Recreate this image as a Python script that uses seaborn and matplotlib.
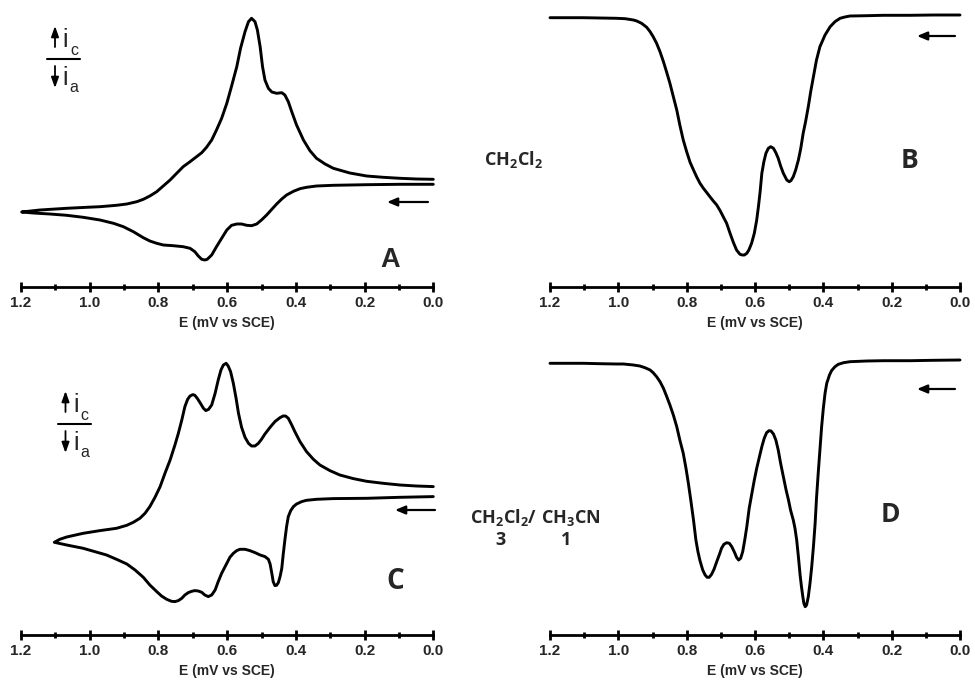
import matplotlib
matplotlib.use("Agg")
import matplotlib.pyplot as plt
from matplotlib.patches import FancyArrowPatch
from matplotlib.ticker import FixedLocator, MultipleLocator
import pandas as pd
import seaborn as sns

# ---------------------------------------------------------------------------
# A: cyclic voltammogram in CH2Cl2 (E in V vs SCE, current in arbitrary units)
# anodic sweep 0 -> 1.2 V, then return sweep 1.2 -> 0 V
a_anodic_E = [0.000, 0.097, 0.194, 0.291, 0.340, 0.369, 0.388, 0.407, 0.427, 0.441,
              0.456, 0.470, 0.485, 0.500, 0.514, 0.529, 0.543, 0.558, 0.572, 0.587,
              0.601, 0.616, 0.631, 0.645, 0.658, 0.665, 0.674, 0.684, 0.694, 0.708,
              0.728, 0.757, 0.786, 0.805, 0.825, 0.844, 0.873, 0.902, 0.931, 0.970,
              1.019, 1.067, 1.116, 1.164, 1.198]
a_anodic_i = [2.77, 2.77, 2.73, 2.67, 2.60, 2.47, 2.33, 2.07, 1.70, 1.30,
              0.80, 0.27, -0.30, -0.80, -1.20, -1.37, -1.33, -1.20, -1.20, -1.33,
              -1.80, -2.63, -3.47, -4.30, -4.73, -4.80, -4.73, -4.40, -3.97, -3.63,
              -3.47, -3.37, -3.30, -3.13, -2.90, -2.57, -1.97, -1.47, -1.13, -0.80,
              -0.53, -0.33, -0.20, -0.10, 0.00]
a_return_E = [1.198, 1.145, 1.067, 1.009, 0.970, 0.922, 0.892, 0.863, 0.844, 0.825,
              0.805, 0.786, 0.766, 0.747, 0.728, 0.708, 0.689, 0.674, 0.660, 0.645,
              0.631, 0.616, 0.601, 0.587, 0.572, 0.561, 0.548, 0.538, 0.529, 0.519,
              0.512, 0.504, 0.497, 0.490, 0.480, 0.470, 0.456, 0.441, 0.432, 0.422,
              0.412, 0.398, 0.378, 0.359, 0.340, 0.315, 0.291, 0.243, 0.194, 0.146,
              0.097, 0.049, 0.000]
a_return_i = [0.00, 0.20, 0.37, 0.47, 0.53, 0.67, 0.80, 1.03, 1.27, 1.60,
              2.03, 2.60, 3.20, 3.87, 4.53, 5.03, 5.53, 5.93, 6.47, 7.20,
              8.20, 9.37, 10.87, 12.60, 14.53, 16.37, 18.03, 19.03, 19.37, 19.03,
              18.20, 16.53, 14.53, 13.20, 12.37, 12.00, 11.87, 11.93, 11.70, 11.03,
              10.03, 8.70, 7.20, 6.13, 5.37, 4.80, 4.37, 3.90, 3.60, 3.47,
              3.37, 3.30, 3.27]

# B: differential pulse voltammogram in CH2Cl2
b_E = [0.000, 0.078, 0.146, 0.224, 0.273, 0.322, 0.337, 0.351, 0.366, 0.380,
       0.395, 0.410, 0.420, 0.429, 0.437, 0.444, 0.452, 0.459, 0.466, 0.473,
       0.481, 0.488, 0.495, 0.500, 0.507, 0.517, 0.525, 0.532, 0.539, 0.546,
       0.554, 0.561, 0.568, 0.574, 0.580, 0.585, 0.590, 0.595, 0.602, 0.610,
       0.618, 0.624, 0.631, 0.637, 0.644, 0.654, 0.663, 0.673, 0.683, 0.693,
       0.702, 0.712, 0.722, 0.732, 0.741, 0.751, 0.761, 0.771, 0.780, 0.790,
       0.800, 0.810, 0.820, 0.829, 0.839, 0.849, 0.859, 0.868, 0.878, 0.888,
       0.898, 0.907, 0.917, 0.932, 0.946, 0.956, 0.980, 1.005, 1.054, 1.102,
       1.151, 1.200]
b_i = [0.00, 0.00, -0.03, -0.03, -0.07, -0.10, -0.20, -0.33, -0.67, -1.17,
       -2.00, -3.17, -4.50, -6.17, -7.67, -9.17, -10.67, -11.83, -13.33, -14.50,
       -15.50, -16.17, -16.57, -16.67, -16.50, -15.83, -15.10, -14.33, -13.77, -13.33,
       -13.17, -13.33, -13.83, -14.67, -15.83, -17.67, -19.17, -20.50, -21.83, -22.83,
       -23.50, -23.83, -24.00, -24.00, -23.93, -23.50, -22.77, -21.83, -20.83, -20.17,
       -19.57, -19.00, -18.60, -18.17, -17.77, -17.33, -16.83, -16.17, -15.50, -14.73,
       -13.67, -12.50, -11.00, -9.50, -8.17, -6.83, -5.67, -4.67, -3.67, -2.83,
       -2.17, -1.67, -1.23, -0.83, -0.60, -0.50, -0.37, -0.33, -0.30, -0.27,
       -0.27, -0.27]

# C: cyclic voltammogram in CH2Cl2 / CH3CN (3:1)
c_anodic_E = [0.000, 0.097, 0.194, 0.291, 0.340, 0.369, 0.383, 0.398, 0.407, 0.415,
              0.422, 0.427, 0.432, 0.437, 0.441, 0.446, 0.451, 0.456, 0.461, 0.466,
              0.470, 0.475, 0.480, 0.490, 0.504, 0.519, 0.534, 0.548, 0.563, 0.572,
              0.582, 0.592, 0.601, 0.616, 0.626, 0.635, 0.645, 0.655, 0.665, 0.674,
              0.684, 0.694, 0.703, 0.713, 0.723, 0.732, 0.742, 0.752, 0.762, 0.776,
              0.791, 0.805, 0.825, 0.844, 0.868, 0.892, 0.922, 0.951, 0.985, 1.019,
              1.067, 1.103]
c_anodic_i = [4.57, 4.50, 4.40, 4.37, 4.30, 4.20, 4.07, 3.83, 3.57, 3.17,
              2.57, 1.57, 0.23, -1.27, -2.60, -3.43, -4.03, -4.30, -4.33, -3.93,
              -3.10, -2.17, -1.70, -1.43, -1.27, -1.03, -0.83, -0.70, -0.70, -0.83,
              -1.10, -1.50, -2.10, -3.10, -3.93, -4.77, -5.27, -5.43, -5.27, -5.00,
              -4.87, -4.83, -4.90, -5.03, -5.27, -5.60, -5.83, -5.93, -5.90, -5.70,
              -5.37, -4.93, -4.27, -3.50, -2.77, -2.17, -1.70, -1.27, -0.93, -0.60,
              -0.27, 0.00]
c_return_E = [1.103, 1.087, 1.067, 1.019, 0.970, 0.922, 0.892, 0.873, 0.854, 0.839,
              0.825, 0.810, 0.795, 0.781, 0.766, 0.752, 0.742, 0.732, 0.723, 0.715,
              0.708, 0.700, 0.694, 0.687, 0.679, 0.669, 0.662, 0.654, 0.645, 0.635,
              0.626, 0.618, 0.611, 0.603, 0.597, 0.590, 0.582, 0.574, 0.567, 0.558,
              0.548, 0.538, 0.529, 0.519, 0.509, 0.500, 0.490, 0.475, 0.461, 0.446,
              0.437, 0.430, 0.422, 0.412, 0.403, 0.388, 0.369, 0.349, 0.330, 0.301,
              0.272, 0.233, 0.194, 0.146, 0.097, 0.049, 0.000]
c_return_i = [0.00, 0.30, 0.53, 0.90, 1.17, 1.40, 1.70, 2.00, 2.40, 2.90,
              3.57, 4.50, 5.57, 6.90, 8.23, 9.73, 10.90, 12.23, 13.57, 14.30,
              14.63, 14.77, 14.70, 14.40, 13.97, 13.40, 13.17, 13.30, 13.73, 14.90,
              16.23, 17.23, 17.73, 17.90, 17.63, 17.07, 15.90, 14.40, 12.90, 11.50,
              10.50, 9.90, 9.63, 9.63, 9.90, 10.30, 10.83, 11.50, 12.07, 12.47,
              12.63, 12.63, 12.40, 11.73, 11.07, 10.07, 9.07, 8.30, 7.73, 7.17,
              6.73, 6.37, 6.10, 5.90, 5.73, 5.63, 5.57]

# D: differential pulse voltammogram in CH2Cl2 / CH3CN (3:1)
d_E = [0.000, 0.078, 0.146, 0.224, 0.273, 0.322, 0.341, 0.356, 0.366, 0.376,
       0.382, 0.390, 0.395, 0.400, 0.405, 0.410, 0.415, 0.420, 0.424, 0.429,
       0.434, 0.439, 0.444, 0.449, 0.453, 0.457, 0.460, 0.464, 0.468, 0.473,
       0.478, 0.483, 0.488, 0.496, 0.502, 0.509, 0.517, 0.525, 0.532, 0.539,
       0.546, 0.553, 0.559, 0.566, 0.573, 0.580, 0.587, 0.595, 0.602, 0.610,
       0.617, 0.624, 0.630, 0.636, 0.642, 0.648, 0.654, 0.660, 0.668, 0.675,
       0.683, 0.691, 0.698, 0.704, 0.712, 0.720, 0.727, 0.734, 0.740, 0.746,
       0.753, 0.761, 0.767, 0.773, 0.780, 0.788, 0.795, 0.802, 0.810, 0.820,
       0.829, 0.839, 0.849, 0.859, 0.868, 0.878, 0.888, 0.898, 0.907, 0.922,
       0.937, 0.956, 0.985, 1.005, 1.054, 1.102, 1.151, 1.200]
d_i = [0.00, -0.03, -0.07, -0.07, -0.10, -0.17, -0.27, -0.43, -0.67, -1.07,
       -1.50, -2.33, -3.33, -4.83, -6.67, -9.00, -11.33, -13.83, -16.33, -18.67,
       -20.67, -22.33, -23.67, -24.50, -24.67, -24.33, -23.67, -22.67, -21.50, -19.67,
       -18.00, -16.83, -16.00, -15.00, -14.00, -13.00, -11.67, -10.33, -9.00, -8.00,
       -7.40, -7.10, -7.07, -7.27, -7.83, -8.67, -9.67, -10.83, -12.00, -13.50,
       -14.83, -16.67, -18.00, -19.17, -19.83, -20.00, -19.73, -19.23, -18.67, -18.33,
       -18.27, -18.43, -18.83, -19.43, -20.17, -20.93, -21.43, -21.73, -21.73, -21.50,
       -21.00, -20.07, -19.17, -18.00, -16.00, -14.00, -12.33, -10.83, -9.33, -8.00,
       -6.67, -5.50, -4.50, -3.60, -2.83, -2.17, -1.67, -1.27, -1.00, -0.77,
       -0.60, -0.50, -0.40, -0.40, -0.37, -0.33, -0.33, -0.33]

x_ticks = [1.2, 1.0, 0.8, 0.6, 0.4, 0.2, 0.0]
x_tick_labels = ["1.2", "1.0", "0.8", "0.6", "0.4", "0.2", "0.0"]
x_label = "E (mV vs SCE)"
panel_letters = ["A", "B", "C", "D"]
solvent_single = r"$\mathbf{CH_2Cl_2}$"
solvent_mix = r"$\mathbf{CH_2Cl_2/\ CH_3CN}$"
mix_ratio = ["3", "1"]

# ---------------------------------------------------------------------------
sns.set_theme(style="white")
plt.rcParams["font.family"] = ["Liberation Sans", "DejaVu Sans"]
plt.rcParams["mathtext.fontset"] = "custom"
plt.rcParams["mathtext.rm"] = "Open Sans"
plt.rcParams["mathtext.bf"] = "Open Sans:bold"
LABEL_FONT = ["Open Sans", "DejaVu Sans"]

W, H = 975, 688
fig = plt.figure(figsize=(W / 100, H / 100), dpi=100)
fig.patch.set_facecolor("white")


def px_axes(left, right, spine_y, top_y):
    """Add axes from pixel bounds measured from the top-left corner."""
    return fig.add_axes([left / W, 1 - spine_y / H, (right - left) / W, (spine_y - top_y) / H])


def trace(ax, E, i):
    df = pd.DataFrame({"E": E, "i": i})
    sns.lineplot(data=df, x="E", y="i", sort=False, estimator=None, color="black",
                 lw=2.1, ax=ax, clip_on=False)


def style_axis(ax, ylim):
    ax.set_xlim(1.2, 0.0)
    ax.set_ylim(*ylim)
    for side in ("left", "right", "top"):
        ax.spines[side].set_visible(False)
    ax.spines["bottom"].set_linewidth(2.0)
    ax.spines["bottom"].set_color("black")
    ax.set_facecolor("none")
    ax.set_yticks([])
    ax.set_ylabel("")
    ax.xaxis.set_major_locator(FixedLocator(x_ticks))
    ax.set_xticklabels(x_tick_labels, fontsize=11, fontweight="bold")
    ax.xaxis.set_minor_locator(MultipleLocator(0.1))
    ax.tick_params(axis="x", which="major", direction="inout", length=7, width=2.0,
                   color="black", pad=3, bottom=True)
    ax.tick_params(axis="x", which="minor", direction="inout", length=4.5, width=2.0,
                   color="black", bottom=True)
    ax.set_xlabel(x_label, fontsize=10, fontweight="bold", labelpad=4)


ax_a = px_axes(21, 433.3, 287, 5)
ax_b = px_axes(550, 960, 287, 5)
ax_c = px_axes(21, 433.3, 635, 350)
ax_d = px_axes(550, 960, 635, 350)

trace(ax_a, a_anodic_E + a_return_E, a_anodic_i + a_return_i)
trace(ax_b, b_E, b_i)
trace(ax_c, c_anodic_E + c_return_E, c_anodic_i + c_return_i)
trace(ax_d, d_E, d_i)

style_axis(ax_a, (-7.5, 20.7))
style_axis(ax_b, (-27.2, 1.0))
style_axis(ax_c, (-9.27, 19.23))
style_axis(ax_d, (-27.5, 1.0))


def ftext(x, y, s, **kw):
    fig.text(x / W, 1 - y / H, s, **kw)


def farrow(x0, y0, x1, y1, hl=0.6, hw=0.25, ms=10, lw=1.6):
    fig.add_artist(FancyArrowPatch((x0 / W, 1 - y0 / H), (x1 / W, 1 - y1 / H),
                                   transform=fig.transFigure,
                                   arrowstyle=f"-|>,head_length={hl},head_width={hw}",
                                   mutation_scale=ms, lw=lw, color="black",
                                   shrinkA=0, shrinkB=0))


def current_key(dx, dy):
    """Cathodic (up) / anodic (down) current sign key."""
    farrow(55 + dx, 47 + dy, 55 + dx, 26 + dy, hl=0.7, hw=0.25, ms=9, lw=1.3)
    ftext(65.5 + dx, 47 + dy, "i", fontsize=18, ha="center", va="baseline")
    ftext(74 + dx, 55 + dy, "c", fontsize=11.5, ha="center", va="baseline")
    fig.add_artist(plt.Line2D([(47 + dx) / W, (80 + dx) / W],
                              [1 - (59.3 + dy) / H, 1 - (59.3 + dy) / H],
                              transform=fig.transFigure, color="black", lw=1.5))
    farrow(55 + dx, 66 + dy, 55 + dx, 88 + dy, hl=0.7, hw=0.25, ms=9, lw=1.3)
    ftext(65.5 + dx, 85 + dy, "i", fontsize=18, ha="center", va="baseline")
    ftext(74 + dx, 92 + dy, "a", fontsize=11.5, ha="center", va="baseline")


current_key(0, 0)
current_key(10.5, 365)

# scan direction arrows
farrow(428, 202, 387, 202)
farrow(955, 36, 917, 36)
farrow(435, 510, 395, 510)
farrow(955, 389, 917, 389)

# panel letters
ftext(390, 267, panel_letters[0], fontsize=19.5, fontweight="bold", ha="center", va="baseline")
ftext(909.5, 168, panel_letters[1], fontsize=19, fontweight="bold", ha="center",
      va="baseline", family=LABEL_FONT)
ftext(395, 589, panel_letters[2], fontsize=20, fontweight="bold", ha="center",
      va="baseline", family=LABEL_FONT)
ftext(890, 522, panel_letters[3], fontsize=19, fontweight="bold", ha="center",
      va="baseline", family=LABEL_FONT)

# solvent annotations
ftext(513, 165, solvent_single, fontsize=13, ha="center", va="baseline")
ftext(535, 523, solvent_mix, fontsize=13, ha="center", va="baseline")
ftext(501, 545, mix_ratio[0], fontsize=13, fontweight="bold", ha="center",
      va="baseline", family=LABEL_FONT)
ftext(566, 545, mix_ratio[1], fontsize=13, fontweight="bold", ha="center",
      va="baseline", family=LABEL_FONT)

fig.savefig("out.png", dpi=100, facecolor="white")
